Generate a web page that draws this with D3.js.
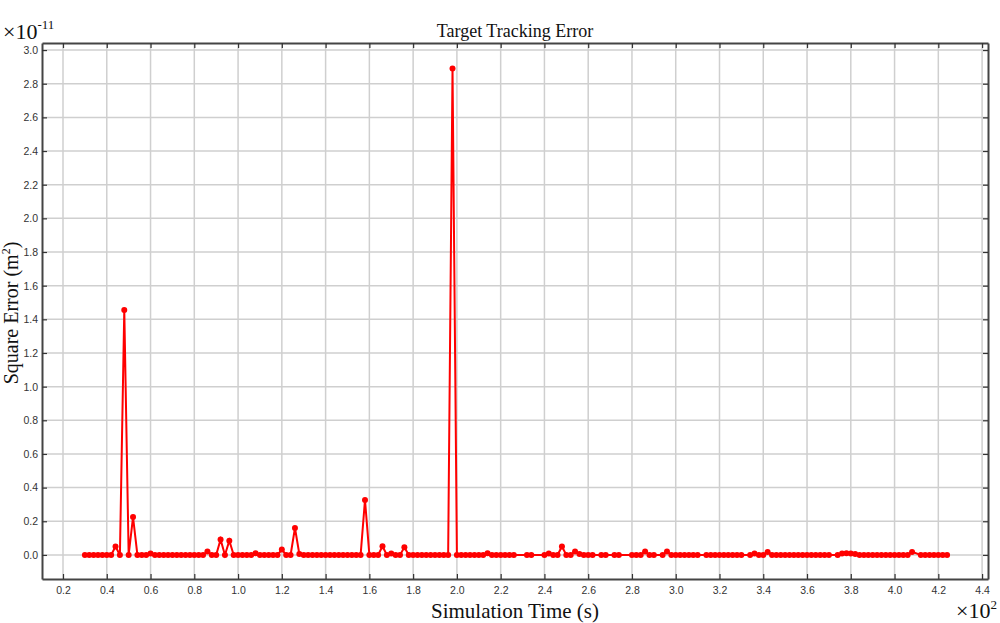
<!DOCTYPE html>
<html><head><meta charset="utf-8">
<script src="https://cdn.jsdelivr.net/npm/d3@7"></script>
<style>html,body{margin:0;padding:0;background:#fff;}svg{display:block;}</style>
</head><body>
<svg id="chart" width="1000" height="623"></svg>
<script>
// Simulation time in seconds (axis shows units of 10^2 s)
const times = [
  30,32,34,36,38,40,42,44,46,48,
  50,52,54,56,58,60,62,64,66,68,
  70,72,74,76,78,80,82,84,86,88,
  90,92,94,96,98,100,102,104,106,108,
  110,112,114,116,118,120,122,124,126,128,
  130,132,134,136,138,140,142,144,146,148,
  150,152,154,156,158,160,162,164,166,168,
  170,172,174,176,178,180,182,184,186,188,
  190,192,194,196,198,200,202,204,206,208,
  210,212,214,216,218,220,222,224,226,
  232,234,240,242,244,246,248,250,
  252,254,256,258,260,262,266,268,
  272,274,280,282,284,286,288,
  290,294,296,298,300,302,304,306,308,
  310,314,316,318,320,322,324,326,328,
  330,334,336,338,340,342,344,346,348,
  350,352,354,356,358,360,362,364,366,368,
  370,374,376,378,380,382,384,386,388,
  390,392,394,396,398,400,402,404,406,408,
  412,414,416,418,420,422,424
];
// Square error (axis shows units of 10^-11 m^2)
const errors = [
  0,0,0,0,0,0,0,0.05,0,1.455,
  0,0.225,0,0,0,0.008,0,0,0,0,
  0,0,0,0,0,0,0,0,0.02,0,
  0,0.092,0,0.085,0,0,0,0,0,0.01,
  0,0,0,0,0,0.032,0,0,0.16,0.005,
  0,0,0,0,0,0,0,0,0,0,
  0,0,0,0,0.327,0,0,0,0.052,0,
  0.008,0,0,0.045,0,0,0,0,0,0,
  0,0,0,0,2.89,0,0,0,0,0,
  0,0,0.01,0,0,0,0,0,0,
  0,0,0,0.008,0,0,0.05,0,
  0,0.02,0.005,0,0,0,0,0,
  0,0,0,0,0,0.02,0,
  0,0,0.02,0,0,0,0,0,0,
  0,0,0,0,0,0,0,0,0,
  0,0,0.008,0,0,0.018,0,0,0,
  0,0,0,0,0,0,0,0,0,0,
  0,0,0.008,0.01,0.008,0.005,0,0,0,
  0,0,0,0,0,0,0,0,0,0.018,
  0,0,0,0,0,0,0
];
const xTicks = [0.2,0.4,0.6,0.8,1.0,1.2,1.4,1.6,1.8,2.0,2.2,2.4,2.6,2.8,3.0,3.2,3.4,3.6,3.8,4.0,4.2,4.4];
const yTicks = [0.0,0.2,0.4,0.6,0.8,1.0,1.2,1.4,1.6,1.8,2.0,2.2,2.4,2.6,2.8,3.0];
const titleText = "Target Tracking Error";
const xLabel = "Simulation Time (s)";

const svg = d3.select("#chart");
const L = 42, R = 988, T = 43, B = 579;
const x = d3.scaleLinear().domain([0.104, 4.427]).range([L, R]);
const y = d3.scaleLinear().domain([-0.143, 3.042]).range([B, T]);

// grid
const g = svg.append("g");
g.selectAll("line.vx").data(xTicks).join("line")
  .attr("x1", d => x(d)).attr("x2", d => x(d)).attr("y1", T).attr("y2", B)
  .attr("stroke", "#cfcfcf").attr("stroke-width", 1.5);
g.selectAll("line.hy").data(yTicks).join("line")
  .attr("x1", L).attr("x2", R).attr("y1", d => y(d)).attr("y2", d => y(d))
  .attr("stroke", "#cfcfcf").attr("stroke-width", 1.5);

// axes with inner ticks
const fmt = d3.format(".1f");
const axB = svg.append("g").attr("transform", `translate(0,${B})`)
  .call(d3.axisBottom(x).tickValues(xTicks).tickFormat(fmt).tickSizeInner(-5).tickSizeOuter(0).tickPadding(8));
const axT = svg.append("g").attr("transform", `translate(0,${T})`)
  .call(d3.axisTop(x).tickValues(xTicks).tickFormat("").tickSizeInner(-5).tickSizeOuter(0));
const axL = svg.append("g").attr("transform", `translate(${L},0)`)
  .call(d3.axisLeft(y).tickValues(yTicks).tickFormat(fmt).tickSizeInner(-5).tickSizeOuter(0).tickPadding(4));
const axR = svg.append("g").attr("transform", `translate(${R},0)`)
  .call(d3.axisRight(y).tickValues(yTicks).tickFormat("").tickSizeInner(-5).tickSizeOuter(0));
[axB, axT, axL, axR].forEach(a => {
  a.select(".domain").attr("stroke", "#444").attr("stroke-width", 2);
  a.selectAll(".tick line").attr("stroke", "#333").attr("stroke-width", 1.2);
  a.selectAll("text").attr("fill", "#333").style("font-family", "Liberation Sans, Arial, sans-serif").style("font-size", "10.5px");
});

// line + markers
const pts = times.map((t, i) => ({t: t / 100, v: errors[i]}));
svg.append("path").datum(pts)
  .attr("fill", "none").attr("stroke", "#ff0000").attr("stroke-width", 2)
  .attr("d", d3.line().x(d => x(d.t)).y(d => y(d.v)));
svg.append("g").selectAll("circle").data(pts).join("circle")
  .attr("cx", d => x(d.t)).attr("cy", d => y(d.v)).attr("r", 3)
  .attr("fill", "#ff0000");

// texts
const serif = "Liberation Serif, Times New Roman, serif";
svg.append("text").attr("x", (L + R) / 2).attr("y", 37).attr("text-anchor", "middle")
  .style("font-family", serif).style("font-size", "18px").attr("fill", "#111").text(titleText);
svg.append("text").attr("x", (L + R) / 2).attr("y", 618).attr("text-anchor", "middle")
  .style("font-family", serif).style("font-size", "21px").attr("fill", "#111").text(xLabel);
const yl = svg.append("text").attr("transform", `translate(18,${(T + B) / 2 + 2}) rotate(-90)`).attr("text-anchor", "middle")
  .style("font-family", serif).style("font-size", "20px").attr("fill", "#111");
yl.append("tspan").text("Square Error (m");
yl.append("tspan").attr("dy", -8).style("font-size", "12px").text("2");
yl.append("tspan").attr("dy", 8).text(")");

const e1 = svg.append("text").attr("x", 3).attr("y", 39)
  .style("font-family", serif).style("font-size", "22px").attr("fill", "#111");
e1.append("tspan").text("×10");
e1.append("tspan").attr("dy", -10).style("font-size", "13px").text("-11");

const e2 = svg.append("text").attr("x", 956).attr("y", 618)
  .style("font-family", serif).style("font-size", "22px").attr("fill", "#111");
e2.append("tspan").text("×10");
e2.append("tspan").attr("dy", -9).style("font-size", "13px").text("2");
</script>
</body></html>
